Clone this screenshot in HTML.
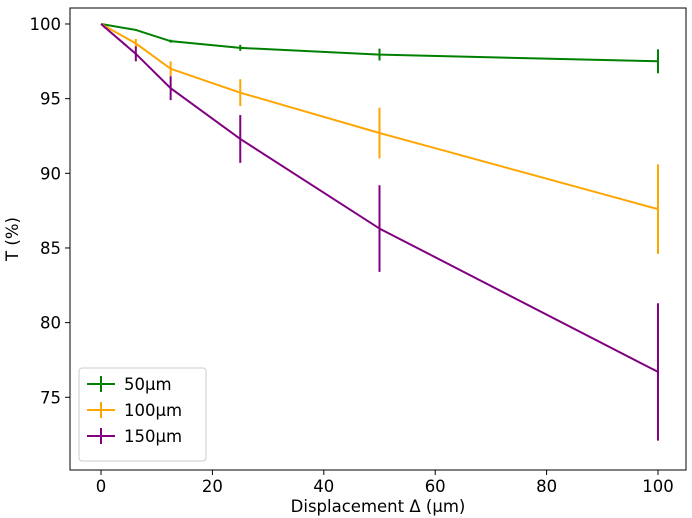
<!DOCTYPE html>
<html><head><meta charset="utf-8"><style>
html,body{margin:0;padding:0;background:#fff;}
svg{display:block;font-family:"DejaVu Sans","Liberation Sans",sans-serif;}
</style></head><body>
<svg id="chart" width="692" height="518" viewBox="0 0 692 518"></svg>
<script>
const xValues=[0,6.25,12.5,25,50,100];
const seriesNames=["50µm","100µm","150µm"];
const seriesColors=["#008000","#FFA500","#800080"];
const green=[100,99.6,98.85,98.4,97.95,97.5];
const greenErr=[0,0.05,0.1,0.2,0.4,0.8];
const orange=[100,98.7,97.0,95.4,92.7,87.6];
const orangeErr=[0,0.3,0.5,0.9,1.7,3.0];
const purple=[100,98.0,95.7,92.3,86.3,76.7];
const purpleErr=[0,0.5,0.8,1.6,2.9,4.6];
const xTicks=[0,20,40,60,80,100];
const yTicks=[75,80,85,90,95,100];

const L=70,R=686,T=8,B=470;
const xMin=-5.57,xMax=105.03,yMin=70.13,yMax=101.07;
const sx=v=>L+(v-xMin)/(xMax-xMin)*(R-L);
const sy=v=>B-(v-yMin)/(yMax-yMin)*(B-T);
const svg=document.getElementById('chart');
const NS='http://www.w3.org/2000/svg';
const FS=16.5;
function mk(tag,attrs,parent){const e=document.createElementNS(NS,tag);for(const k in attrs)e.setAttribute(k,attrs[k]);(parent||svg).appendChild(e);return e;}

const frame=mk('rect',{x:L,y:T,width:R-L,height:B-T,fill:'none',stroke:'#000','stroke-width':1});



xTicks.forEach(t=>{
  const g=mk('g',{});
  
  
  mk('line',{x1:sx(t),x2:sx(t),y1:B,y2:B+5,stroke:'#000'},g);
  const tx=mk('text',{x:sx(t),y:B+22,'text-anchor':'middle','font-size':FS},g);tx.textContent=t;
});
yTicks.forEach(t=>{
  const g=mk('g',{});
  
  
  mk('line',{x1:L-5,x2:L,y1:sy(t),y2:sy(t),stroke:'#000'},g);
  const tx=mk('text',{x:L-9,y:sy(t)+6,'text-anchor':'end','font-size':FS},g);tx.textContent=t;
});
const xl=mk('text',{x:(L+R)/2,y:512,'text-anchor':'middle','font-size':FS});
xl.textContent='Displacement Δ (µm)';


const yl=mk('text',{x:0,y:0,'text-anchor':'middle','font-size':FS,transform:'translate(18,'+((T+B)/2)+') rotate(-90)'});
yl.textContent='T (%)';



const data=[green,orange,purple],errs=[greenErr,orangeErr,purpleErr];
data.forEach((vals,si)=>{
  const g=mk('g',{});
  
  
  const pts=vals.map((v,i)=>sx(xValues[i])+','+sy(v)).join(' ');
  mk('polyline',{points:pts,fill:'none',stroke:seriesColors[si],'stroke-width':2},g);
  vals.forEach((v,i)=>{
    if(errs[si][i]<=0)return;
    const e=mk('line',{x1:sx(xValues[i]),x2:sx(xValues[i]),y1:sy(v-errs[si][i]),y2:sy(v+errs[si][i]),stroke:seriesColors[si],'stroke-width':2},g);
    
    
  });
});

const lg=mk('g',{});


mk('rect',{x:79,y:368,width:127,height:93,rx:3,fill:'#fff',stroke:'#ccc'},lg);
seriesNames.forEach((n,i)=>{
  const y=384+i*26;
  const e=mk('g',{},lg);
  
  
  mk('line',{x1:87,x2:115,y1:y,y2:y,stroke:seriesColors[i],'stroke-width':2},e);
  mk('line',{x1:101,x2:101,y1:y-8,y2:y+8,stroke:seriesColors[i],'stroke-width':2},e);
  const t=mk('text',{x:124,y:y+6,'font-size':FS},e);t.textContent=n;
});
</script>
</body></html>
